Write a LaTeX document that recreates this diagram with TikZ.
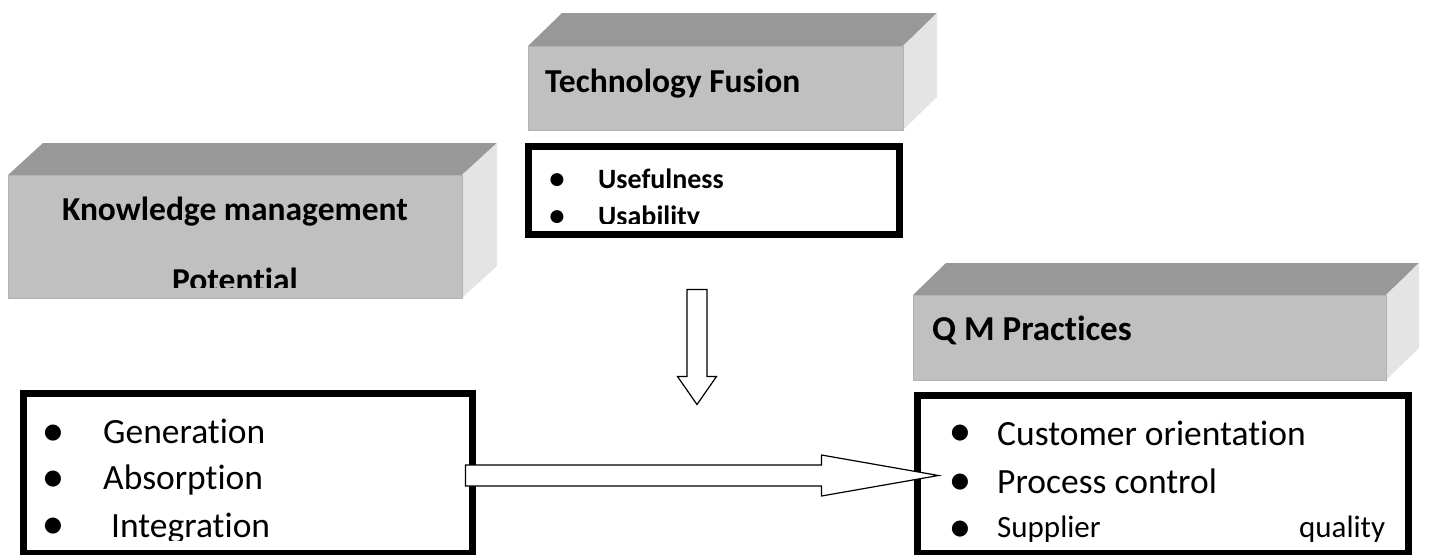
\documentclass[tikz,border=0pt]{standalone}
\usepackage{fontspec}
\setmainfont{Carlito}[Ligatures=CommonOff]
\newfontfamily\bulletfont{DejaVu Sans}
\usetikzlibrary{calc}

\definecolor{frontgray}{HTML}{C0C0C0}
\definecolor{topgray}{HTML}{989898}
\definecolor{sidegray}{HTML}{E4E4E4}
\definecolor{edgegray}{HTML}{B2B2B2}

\tikzset{
  front/.style={rectangle, fill=frontgray, draw=edgegray, line width=1pt,
    inner sep=0pt, outer sep=0pt, anchor=north west},
  topface/.style={fill=topgray},
  sideface/.style={fill=sidegray},
  listbox/.style={rectangle, draw=black, line width=7pt, fill=white,
    inner sep=0pt, outer sep=0pt, anchor=north west},
  title/.style={font=\bfseries\fontsize{33.5}{40}\selectfont, inner sep=0pt},
  item/.style={font=\fontsize{35.5}{40}\selectfont, inner sep=0pt, anchor=base west},
  smallitem/.style={font=\fontsize{31}{36}\selectfont, inner sep=0pt, anchor=base west},
  bolditem/.style={font=\bfseries\fontsize{28}{32}\selectfont, inner sep=0pt, anchor=base west},
  dot/.style={font=\bulletfont\fontsize{21}{21}\selectfont, inner sep=0pt, anchor=center},
  smalldot/.style={font=\bulletfont\fontsize{17}{17}\selectfont, inner sep=0pt, anchor=center},
  hollow/.style={draw=black, fill=white, line width=1.2pt, line join=miter},
}

% box with a top and a right side face, depth (dx,dy)
\newcommand\drawcuboid[7]{%
  \node[front, minimum width=#4pt, minimum height=#5pt] (#1) at (#2,#3) {};
  \fill[topface] (#1.north west) -- ++(#6,#7) -- ($(#1.north east)+(#6,#7)$)
    -- (#1.north east) -- cycle;
  \fill[sideface] (#1.north east) -- ++(#6,#7) -- ($(#1.south east)+(#6,#7)$)
    -- (#1.south east) -- cycle;
  \node[front, minimum width=#4pt, minimum height=#5pt] (#1) at (#2,#3) {};
}

\begin{document}
\begin{tikzpicture}[x=1pt, y=-1pt]
\useasboundingbox (0,0) rectangle (1434,554);
\clip (0,0) rectangle (1434,554);

% ---------- Knowledge management potential ----------
\drawcuboid{km}{8}{175}{454}{123}{35}{-32}
\node[title, anchor=base] (kmtitle) at (235,220) {Knowledge management};
\begin{scope}
  \clip (km.north west) rectangle ($(km.south east)+(0,-11)$);
  \node[title, anchor=base] (kmsub) at (235,291) {Potential};
\end{scope}

\node[listbox, minimum width=449pt, minimum height=160pt] (kmlist) at (23.5,393.5) {};
\begin{scope}
  \clip (kmlist.north west) rectangle ($(kmlist.south east)+(0,-13)$);
  \node[dot] (kmb1) at (53,433) {●};
  \node[dot] (kmb2) at (53,479) {●};
  \node[dot] (kmb3) at (53,526) {●};
  \node[item] (kmi1) at (103,443) {Generation};
  \node[item] (kmi2) at (103,489) {Absorption};
  \node[item] (kmi3) at (111,537) {Integration};
\end{scope}

% ---------- Technology fusion ----------
\drawcuboid{tf}{528}{46}{375}{84}{34}{-33}
\node[title, anchor=base west] (tftitle) at (545,92) {Technology Fusion};

\node[listbox, minimum width=371pt, minimum height=88pt] (tflist) at (528.5,146.5) {};
\begin{scope}
  \clip (tflist.north west) rectangle ($(tflist.south east)+(0,-11.5)$);
  \node[smalldot] (tfb1) at (557,180) {●};
  \node[smalldot] (tfb2) at (557,217) {●};
  \node[bolditem] (tfi1) at (598,188) {Usefulness};
  \node[bolditem] (tfi2) at (598,225) {Usability};
\end{scope}

% ---------- Q M practices ----------
\drawcuboid{qm}{913}{295}{473}{85}{33}{-32}
\node[title, font=\bfseries\fontsize{35}{40}\selectfont, anchor=base west] (qmtitle)
  at (932,340) {Q M Practices};

\node[listbox, minimum width=491pt, minimum height=158pt] (qmlist) at (917.5,395.5) {};
\node[dot] (qmb1) at (960,433) {●};
\node[dot] (qmb2) at (960,482) {●};
\node[dot] (qmb3) at (960,529) {●};
\node[item] (qmi1) at (997,445) {Customer orientation};
\node[item] (qmi2) at (997,493) {Process control};
\node[smallitem] (qmi3) at (997,537) {\makebox[388pt][s]{Supplier\hfill quality}};

% ---------- block arrows ----------
% downward arrow below the technology box
\coordinate (da) at ($(tflist.south)+(-17,55)$);
\coordinate (db) at ($(da)+(0,115)$);
\draw[hollow] ($(da)+(-10,0)$) -- ($(da)+(10,0)$) -- ($(db)+(10,-28)$)
  -- ($(db)+(19.5,-28)$) -- (db) -- ($(db)+(-19.5,-28)$)
  -- ($(db)+(-10,-28)$) -- cycle;

% horizontal arrow from the knowledge list to the practices list
\coordinate (ha) at ($(kmlist.east)+(-7,2)$);
\coordinate (hb) at ($(ha -| qmlist.west)+(21,0)$);
\draw[hollow] ($(ha)+(0,-10.5)$) -- ($(hb)+(-117,-10.5)$)
  -- ($(hb)+(-117,-20.5)$) -- (hb) -- ($(hb)+(-117,20.5)$)
  -- ($(hb)+(-117,10.5)$) -- ($(ha)+(0,10.5)$) -- cycle;
\end{tikzpicture}
\end{document}
